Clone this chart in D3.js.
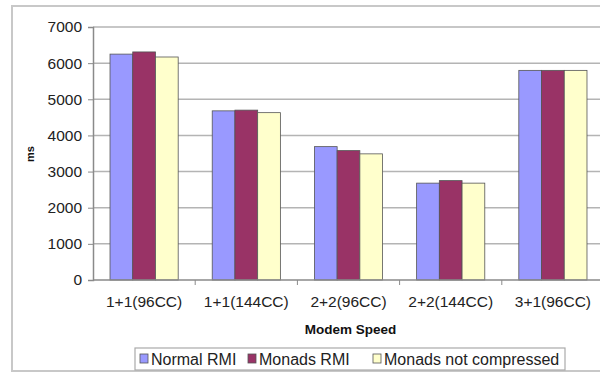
<!DOCTYPE html>
<html><head><meta charset="utf-8">
<script src="https://cdn.jsdelivr.net/npm/d3@7"></script>
<style>body{margin:0;background:#fff}svg{display:block;font-family:"Liberation Sans",Arial,sans-serif}</style>
</head><body><svg id="c" width="600" height="373"></svg>
<script>
const categories = ["1+1(96CC)","1+1(144CC)","2+2(96CC)","2+2(144CC)","3+1(96CC)"];
const seriesNames = ["Normal RMI","Monads RMI","Monads not compressed"];
const normalRMI = [6250,4680,3690,2680,5800];
const monadsRMI = [6310,4700,3580,2750,5800];
const monadsNotCompressed = [6170,4630,3490,2680,5800];
const yTicks = [0,1000,2000,3000,4000,5000,6000,7000];
const colors = ["#9999FF","#993366","#FFFFCC"];

(function(){
const series = [normalRMI, monadsRMI, monadsNotCompressed];
const svg = d3.select("#c");

// outer border
svg.append("rect").attr("x",12).attr("y",6).attr("width",620).attr("height",365)
  .attr("fill","#fff").attr("stroke","#c8c8c8").attr("stroke-width",2);

const pl = 93, pr = 604, pt = 27, pb = 280;
const x0 = d3.scaleBand().domain(categories).range([pl,pr]).paddingInner(0.333).paddingOuter(0.1665);
const x1 = d3.scaleBand().domain(d3.range(3)).range([0,x0.bandwidth()]);
const y = d3.scaleLinear().domain([0,7000]).range([pb,pt]);

// gridlines
svg.append("g").selectAll("line").data(yTicks.filter(d=>d>0)).join("line")
  .attr("x1",pl).attr("x2",640).attr("y1",d=>y(d)).attr("y2",d=>y(d))
  .attr("stroke","#b4b4b4").attr("stroke-width",1.5);

// bars
const g = svg.append("g");
categories.forEach((c,i)=>{
  series.forEach((s,j)=>{
    g.append("rect").attr("x",x0(c)+x1(j)).attr("y",y(s[i]))
     .attr("width",x1.bandwidth()).attr("height",y(0)-y(s[i]))
     .attr("fill",colors[j]).attr("stroke","#555").attr("stroke-width",0.8);
  });
});

// y axis
const ya = svg.append("g").attr("transform",`translate(${pl},0)`)
  .call(d3.axisLeft(y).tickValues(yTicks).tickSize(5).tickPadding(6).tickFormat(d3.format("d")));
ya.select(".domain").attr("stroke","#8a8a8a").attr("stroke-width",1.5);
ya.selectAll(".tick line").attr("stroke","#8a8a8a");
ya.selectAll("text").attr("font-size",15.5).attr("fill","#222").attr("font-family","Liberation Sans, Arial");

// x axis
const xa = svg.append("g").attr("transform",`translate(0,${pb})`)
  .call(d3.axisBottom(x0).tickSize(0).tickPadding(16));
xa.select(".domain").attr("stroke","#8a8a8a").attr("stroke-width",1.5).attr("d",`M${pl},0H640`);
xa.selectAll("text").attr("font-size",15.5).attr("fill","#222").attr("font-family","Liberation Sans, Arial");
// category boundary ticks
const step = x0.step();
svg.append("g").selectAll("line").data(d3.range(1,6)).join("line")
  .attr("x1",d=>pl+d*step).attr("x2",d=>pl+d*step).attr("y1",pb).attr("y2",pb+5)
  .attr("stroke","#8a8a8a");

// axis titles
svg.append("text").attr("x",(pl+pr)/2+2).attr("y",334).attr("text-anchor","middle")
  .attr("font-weight","bold").attr("font-size",13.5).attr("fill","#111").text("Modem Speed");
svg.append("text").attr("transform","translate(34,154) rotate(-90)").attr("text-anchor","middle")
  .attr("font-weight","bold").attr("font-size",11).attr("fill","#111").text("ms");

// legend
const lg = svg.append("g");
lg.append("rect").attr("x",135).attr("y",348).attr("width",430).attr("height",22)
  .attr("fill","#fff").attr("stroke","#aaa").attr("stroke-width",1.2);
const itemX = [140,248,373];
seriesNames.forEach((n,j)=>{
  lg.append("rect").attr("x",itemX[j]).attr("y",354).attr("width",8).attr("height",9)
    .attr("fill",colors[j]).attr("stroke","#555").attr("stroke-width",0.8);
  lg.append("text").attr("x",itemX[j]+11).attr("y",364.5).attr("font-size",16)
    .attr("fill","#222").text(n);
});
})();
</script></body></html>
